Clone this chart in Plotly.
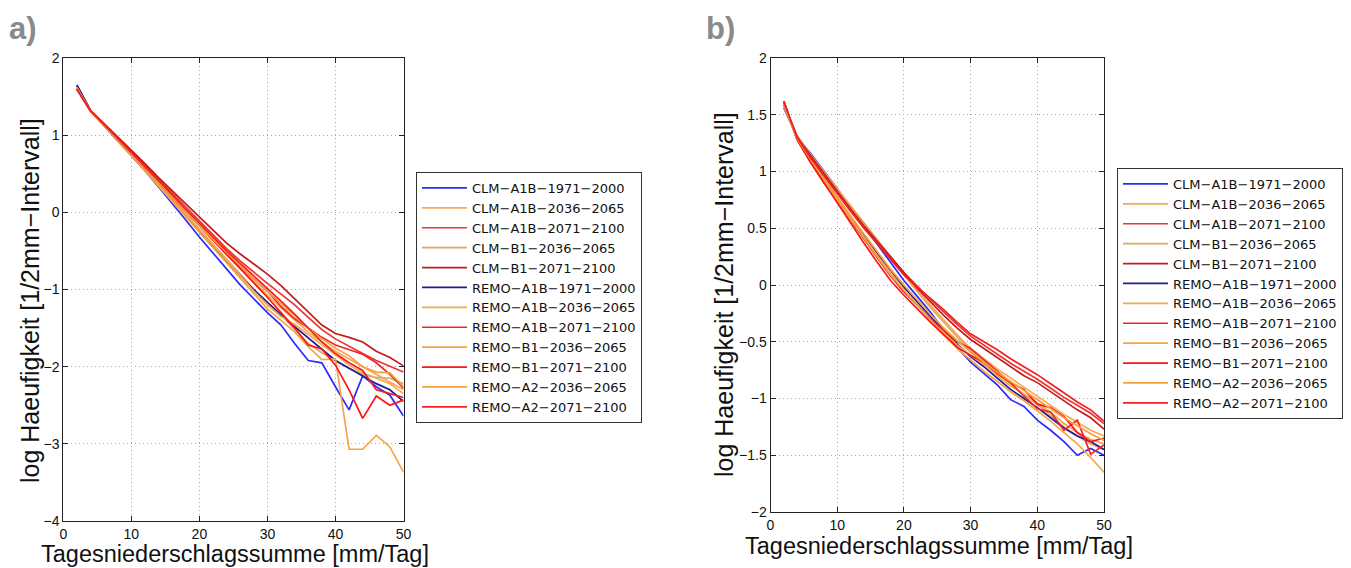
import plotly.graph_objects as go

W, H = 1351, 568

x_mm = [2, 4, 6, 8, 10, 12, 14, 16, 18, 20, 22, 24, 26, 28, 30, 32, 34, 36, 38, 40, 42, 44, 46, 48, 50]

series_names = [
    "CLM\u2212A1B\u22121971\u22122000",
    "CLM\u2212A1B\u22122036\u22122065",
    "CLM\u2212A1B\u22122071\u22122100",
    "CLM\u2212B1\u22122036\u22122065",
    "CLM\u2212B1\u22122071\u22122100",
    "REMO\u2212A1B\u22121971\u22122000",
    "REMO\u2212A1B\u22122036\u22122065",
    "REMO\u2212A1B\u22122071\u22122100",
    "REMO\u2212B1\u22122036\u22122065",
    "REMO\u2212B1\u22122071\u22122100",
    "REMO\u2212A2\u22122036\u22122065",
    "REMO\u2212A2\u22122071\u22122100",
]

series_colors = [
    "#2b2bff", "#f7aa55", "#ee3333", "#e2a860", "#c41c1c", "#1c1c96",
    "#f2a855", "#ee2828", "#f5a548", "#ff1414", "#f6a040", "#f42020",
]

# Panel a) values (log frequency)
a_vals = [
    [1.64, 1.32, 1.12, 0.93, 0.74, 0.54, 0.33, 0.12, -0.10, -0.32, -0.53, -0.74, -0.94, -1.12, -1.30, -1.46, -1.70, -1.92, -1.95, -2.26, -2.56, -2.12, -2.26, -2.37, -2.64],
    [1.62, 1.32, 1.13, 0.95, 0.77, 0.58, 0.39, 0.20, 0.01, -0.18, -0.36, -0.54, -0.72, -0.90, -1.07, -1.24, -1.40, -1.55, -1.68, -1.80, -1.90, -2.00, -2.10, -2.20, -2.30],
    [1.60, 1.32, 1.14, 0.97, 0.79, 0.61, 0.43, 0.25, 0.06, -0.12, -0.30, -0.47, -0.63, -0.78, -0.92, -1.06, -1.20, -1.36, -1.52, -1.64, -1.74, -1.83, -1.92, -2.00, -2.07],
    [1.62, 1.32, 1.13, 0.95, 0.76, 0.57, 0.37, 0.18, -0.02, -0.22, -0.41, -0.60, -0.80, -1.00, -1.18, -1.33, -1.52, -1.70, -1.82, -1.92, -2.02, -2.10, -2.14, -2.15, -2.22],
    [1.60, 1.32, 1.15, 0.98, 0.81, 0.63, 0.45, 0.28, 0.10, -0.07, -0.24, -0.40, -0.54, -0.67, -0.80, -0.95, -1.12, -1.30, -1.46, -1.57, -1.62, -1.68, -1.80, -1.88, -1.99],
    [1.65, 1.32, 1.13, 0.94, 0.75, 0.56, 0.36, 0.16, -0.05, -0.25, -0.45, -0.64, -0.82, -1.00, -1.17, -1.33, -1.48, -1.63, -1.78, -1.92, -2.02, -2.12, -2.22, -2.30, -2.45],
    [1.61, 1.31, 1.12, 0.94, 0.75, 0.56, 0.37, 0.17, -0.03, -0.22, -0.42, -0.62, -0.82, -1.02, -1.20, -1.35, -1.45, -1.58, -1.72, -1.85, -1.98, -2.08, -2.15, -2.22, -2.35],
    [1.60, 1.31, 1.13, 0.95, 0.77, 0.58, 0.40, 0.21, 0.02, -0.17, -0.35, -0.53, -0.70, -0.86, -1.02, -1.22, -1.38, -1.50, -1.62, -1.72, -1.78, -1.84, -1.95, -2.10, -2.28],
    [1.62, 1.31, 1.12, 0.93, 0.74, 0.54, 0.34, 0.14, -0.06, -0.26, -0.46, -0.66, -0.86, -1.06, -1.25, -1.40, -1.55, -1.74, -1.91, -1.90, -3.07, -3.07, -2.89, -3.04, -3.37],
    [1.59, 1.31, 1.13, 0.95, 0.77, 0.58, 0.39, 0.20, 0.01, -0.18, -0.37, -0.55, -0.73, -0.91, -1.10, -1.30, -1.50, -1.72, -1.77, -1.98, -2.30, -2.67, -2.38, -2.50, -2.43],
    [1.61, 1.32, 1.13, 0.95, 0.77, 0.58, 0.39, 0.20, 0.01, -0.17, -0.35, -0.52, -0.70, -0.86, -1.02, -1.18, -1.34, -1.50, -1.64, -1.76, -1.86, -2.00, -2.07, -2.08, -2.26],
    [1.60, 1.32, 1.14, 0.96, 0.78, 0.60, 0.41, 0.23, 0.04, -0.14, -0.32, -0.50, -0.66, -0.82, -0.98, -1.15, -1.32, -1.50, -1.68, -1.83, -1.95, -2.05, -2.30, -2.35, -2.40],
]

# Panel b) values (log frequency)
b_vals = [
    [1.56, 1.30, 1.16, 1.01, 0.85, 0.68, 0.52, 0.36, 0.20, 0.04, -0.10, -0.24, -0.40, -0.55, -0.68, -0.78, -0.88, -1.01, -1.07, -1.19, -1.28, -1.38, -1.50, -1.44, -1.50],
    [1.58, 1.31, 1.15, 1.00, 0.85, 0.69, 0.54, 0.39, 0.24, 0.09, -0.05, -0.18, -0.31, -0.44, -0.56, -0.65, -0.74, -0.82, -0.90, -0.98, -1.06, -1.14, -1.21, -1.28, -1.33],
    [1.60, 1.31, 1.14, 0.98, 0.83, 0.68, 0.53, 0.39, 0.25, 0.11, -0.01, -0.13, -0.24, -0.35, -0.45, -0.53, -0.61, -0.69, -0.76, -0.83, -0.91, -0.99, -1.06, -1.13, -1.22],
    [1.57, 1.30, 1.15, 1.00, 0.84, 0.68, 0.53, 0.38, 0.23, 0.08, -0.06, -0.20, -0.33, -0.46, -0.58, -0.68, -0.78, -0.87, -0.97, -1.05, -1.15, -1.25, -1.33, -1.40, -1.45],
    [1.59, 1.30, 1.14, 0.98, 0.82, 0.67, 0.52, 0.38, 0.24, 0.10, -0.03, -0.15, -0.27, -0.38, -0.48, -0.56, -0.64, -0.72, -0.80, -0.86, -0.94, -1.02, -1.10, -1.17, -1.27],
    [1.61, 1.28, 1.10, 0.93, 0.77, 0.60, 0.44, 0.28, 0.12, -0.02, -0.15, -0.28, -0.40, -0.52, -0.63, -0.72, -0.82, -0.92, -1.00, -1.08, -1.17, -1.26, -1.33, -1.38, -1.45],
    [1.60, 1.28, 1.09, 0.92, 0.76, 0.59, 0.42, 0.26, 0.11, -0.04, -0.17, -0.30, -0.42, -0.53, -0.62, -0.70, -0.80, -0.89, -0.96, -1.04, -1.12, -1.22, -1.30, -1.36, -1.40],
    [1.62, 1.28, 1.08, 0.90, 0.74, 0.57, 0.40, 0.24, 0.08, -0.06, -0.18, -0.30, -0.40, -0.50, -0.56, -0.66, -0.76, -0.86, -0.98, -1.09, -1.12, -1.28, -1.19, -1.49, -1.41],
    [1.60, 1.28, 1.09, 0.91, 0.75, 0.58, 0.41, 0.25, 0.09, -0.05, -0.18, -0.31, -0.44, -0.56, -0.66, -0.76, -0.85, -0.94, -1.02, -1.11, -1.20, -1.30, -1.40, -1.52, -1.65],
    [1.62, 1.28, 1.08, 0.90, 0.73, 0.55, 0.37, 0.20, 0.04, -0.09, -0.21, -0.33, -0.44, -0.55, -0.62, -0.68, -0.78, -0.86, -0.92, -1.05, -1.08, -1.16, -1.30, -1.38, -1.35],
    [1.60, 1.29, 1.11, 0.94, 0.78, 0.61, 0.45, 0.29, 0.14, 0.00, -0.13, -0.26, -0.38, -0.49, -0.59, -0.68, -0.77, -0.85, -0.93, -1.01, -1.09, -1.17, -1.24, -1.31, -1.37],
    [1.61, 1.30, 1.12, 0.96, 0.80, 0.65, 0.50, 0.36, 0.22, 0.09, -0.02, -0.12, -0.22, -0.33, -0.43, -0.50, -0.57, -0.65, -0.72, -0.79, -0.87, -0.95, -1.03, -1.10, -1.20],
]

x_title = "Tagesniederschlagssumme [mm/Tag]"
y_title = "log Haeufigkeit [1/2mm\u2212Intervall]"
panel_labels = ["a)", "b)"]

FONT = "Liberation Sans, Arial, Helvetica, sans-serif"
LEG_FONT = "DejaVu Sans, Liberation Sans, sans-serif"

fig = go.Figure()

for name, col, ys in zip(series_names, series_colors, a_vals):
    fig.add_trace(go.Scatter(x=x_mm, y=ys, mode="lines", name=name,
                             line=dict(color=col, width=1.7),
                             xaxis="x", yaxis="y", legend="legend"))
for name, col, ys in zip(series_names, series_colors, b_vals):
    fig.add_trace(go.Scatter(x=x_mm, y=ys, mode="lines", name=name,
                             line=dict(color=col, width=1.7),
                             xaxis="x2", yaxis="y2", legend="legend2"))

def px_x(p):
    return p / W

def px_y(p):
    return 1 - p / H

axis_common = dict(
    showline=True, linecolor="#222", linewidth=1, mirror="ticks",
    ticks="inside", ticklen=5, tickcolor="#222", automargin=False,
    showgrid=True, gridcolor="#a8a8a8", griddash="1px,3px", gridwidth=1,
    zeroline=False, tickfont=dict(family=FONT, size=14, color="#111"),
)

ax_l, ax_r, ax_t, ax_b = 63.3, 403.5, 58, 521
bx_l, bx_r, bx_t, bx_b = 770.5, 1104, 58, 512

legend_common = dict(xanchor="left", yanchor="top",
                     bgcolor="white", bordercolor="#333", borderwidth=1,
                     font=dict(family=LEG_FONT, size=13, color="#111"),
                     tracegroupgap=0, itemwidth=45)

fig.update_layout(
    width=W, height=H,
    paper_bgcolor="white", plot_bgcolor="white",
    margin=dict(l=0, r=0, t=0, b=0, pad=0, autoexpand=False),
    font=dict(family=FONT, color="#111"),
    xaxis=dict(domain=[px_x(ax_l), px_x(ax_r)], range=[0, 50], dtick=10, tick0=0,
               anchor="y", **axis_common),
    yaxis=dict(domain=[px_y(ax_b), px_y(ax_t)], range=[-4, 2], dtick=1, tick0=0,
               anchor="x", **axis_common),
    xaxis2=dict(domain=[px_x(bx_l), px_x(bx_r)], range=[0, 50], dtick=10, tick0=0,
                anchor="y2", **axis_common),
    yaxis2=dict(domain=[px_y(bx_b), px_y(bx_t)], range=[-2, 2], dtick=0.5, tick0=0,
                anchor="x2", **axis_common),
    legend=dict(x=px_x(416), y=px_y(172), **legend_common),
    legend2=dict(x=px_x(1117), y=px_y(168), **legend_common),
    showlegend=True,
)

annotations = []
for cx, ty, ylab_x, yc in [((ax_l + ax_r) / 2 + 2, 554, 30, 301),
                           ((bx_l + bx_r) / 2 + 2, 546, 724, 295)]:
    annotations.append(dict(x=px_x(cx), y=px_y(ty), xref="paper", yref="paper",
                            text=x_title, showarrow=False, xanchor="center", yanchor="middle",
                            font=dict(family=FONT, size=23.5, color="#111")))
    annotations.append(dict(x=px_x(ylab_x), y=px_y(yc), xref="paper", yref="paper",
                            text=y_title, showarrow=False, textangle=-90,
                            xanchor="center", yanchor="middle",
                            font=dict(family=FONT, size=25, color="#111")))
annotations.append(dict(x=px_x(7), y=px_y(28), xref="paper", yref="paper",
                        text="<b>a)</b>", showarrow=False, xanchor="left", yanchor="middle",
                        font=dict(family=FONT, size=31, color="#8a8a8a")))
annotations.append(dict(x=px_x(704), y=px_y(28), xref="paper", yref="paper",
                        text="<b>b)</b>", showarrow=False, xanchor="left", yanchor="middle",
                        font=dict(family=FONT, size=31, color="#8a8a8a")))
fig.update_layout(annotations=annotations)

fig.write_html(
    "out.html",
    config={"displayModeBar": False},
    post_script="document.body.style.margin='0px';document.body.style.overflow='hidden';",
)
